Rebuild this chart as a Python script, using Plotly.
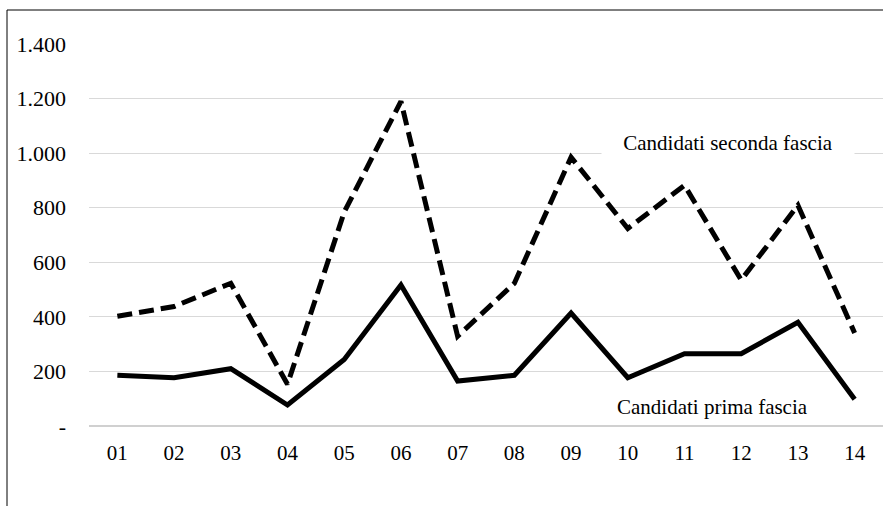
import plotly.graph_objects as go

mesi = ["01", "02", "03", "04", "05", "06", "07", "08", "09", "10", "11", "12", "13", "14"]
prima_fascia = [186, 177, 210, 77, 244, 517, 165, 186, 414, 177, 265, 265, 380, 98]
seconda_fascia = [402, 438, 523, 153, 784, 1190, 329, 523, 985, 724, 882, 535, 809, 341]

y_ticks = [0, 200, 400, 600, 800, 1000, 1200, 1400]
y_labels = ["-", "200", "400", "600", "800", "1.000", "1.200", "1.400"]

font_serif = "Liberation Serif, Times New Roman, serif"

W, H = 883, 506
L, R, T, B = 89, 0, 44, 80
plot_w, plot_h = W - L - R, H - T - B

fig = go.Figure()

fig.add_trace(go.Scatter(
    x=mesi,
    y=seconda_fascia,
    mode="lines",
    line=dict(color="black", width=5, dash="15px,7px"),
    showlegend=False,
))

fig.add_trace(go.Scatter(
    x=mesi,
    y=prima_fascia,
    mode="lines",
    line=dict(color="black", width=5),
    showlegend=False,
))

fig.add_annotation(
    x=10.77, y=1039, xref="x", yref="y",
    text="Candidati seconda fascia",
    showarrow=False,
    bgcolor="white",
    width=250,
    height=30,
    font=dict(family=font_serif, size=21, color="black"),
)

fig.add_annotation(
    x=10.5, y=70, xref="x", yref="y",
    text="Candidati prima fascia",
    showarrow=False,
    font=dict(family=font_serif, size=21, color="black"),
)

# cornice del grafico (sinistra e in alto)
bx = (7 - L) / plot_w
by_top = 1 + (T - 10) / plot_h
by_bot = -B / plot_h
fig.add_shape(type="line", xref="paper", yref="paper",
              x0=bx, x1=bx, y0=by_top, y1=by_bot,
              line=dict(color="black", width=1))
fig.add_shape(type="line", xref="paper", yref="paper",
              x0=bx, x1=1.0, y0=by_top, y1=by_top,
              line=dict(color="black", width=1))

fig.update_layout(
    width=W,
    height=H,
    plot_bgcolor="white",
    paper_bgcolor="white",
    margin=dict(l=L, r=R, t=T, b=B),
    font=dict(family=font_serif, size=21, color="black"),
    hovermode=False,
    xaxis=dict(
        type="category",
        range=[-0.5, 13.5],
        showgrid=False,
        showline=False,
        ticks="",
        ticklabelstandoff=12,
        tickfont=dict(family=font_serif, size=21, color="black"),
    ),
    yaxis=dict(
        range=[0, 1400],
        tickvals=y_ticks,
        ticktext=y_labels,
        showgrid=True,
        gridcolor="#d9d9d9",
        gridwidth=1,
        zeroline=True,
        zerolinecolor="#d0d0d0",
        zerolinewidth=2,
        showline=False,
        ticks="",
        ticklabelstandoff=22,
        tickfont=dict(family=font_serif, size=22, color="black"),
    ),
)

fig.write_html(
    "out.html",
    config={"displayModeBar": False},
    post_script="document.body.style.margin = '0';",
)
